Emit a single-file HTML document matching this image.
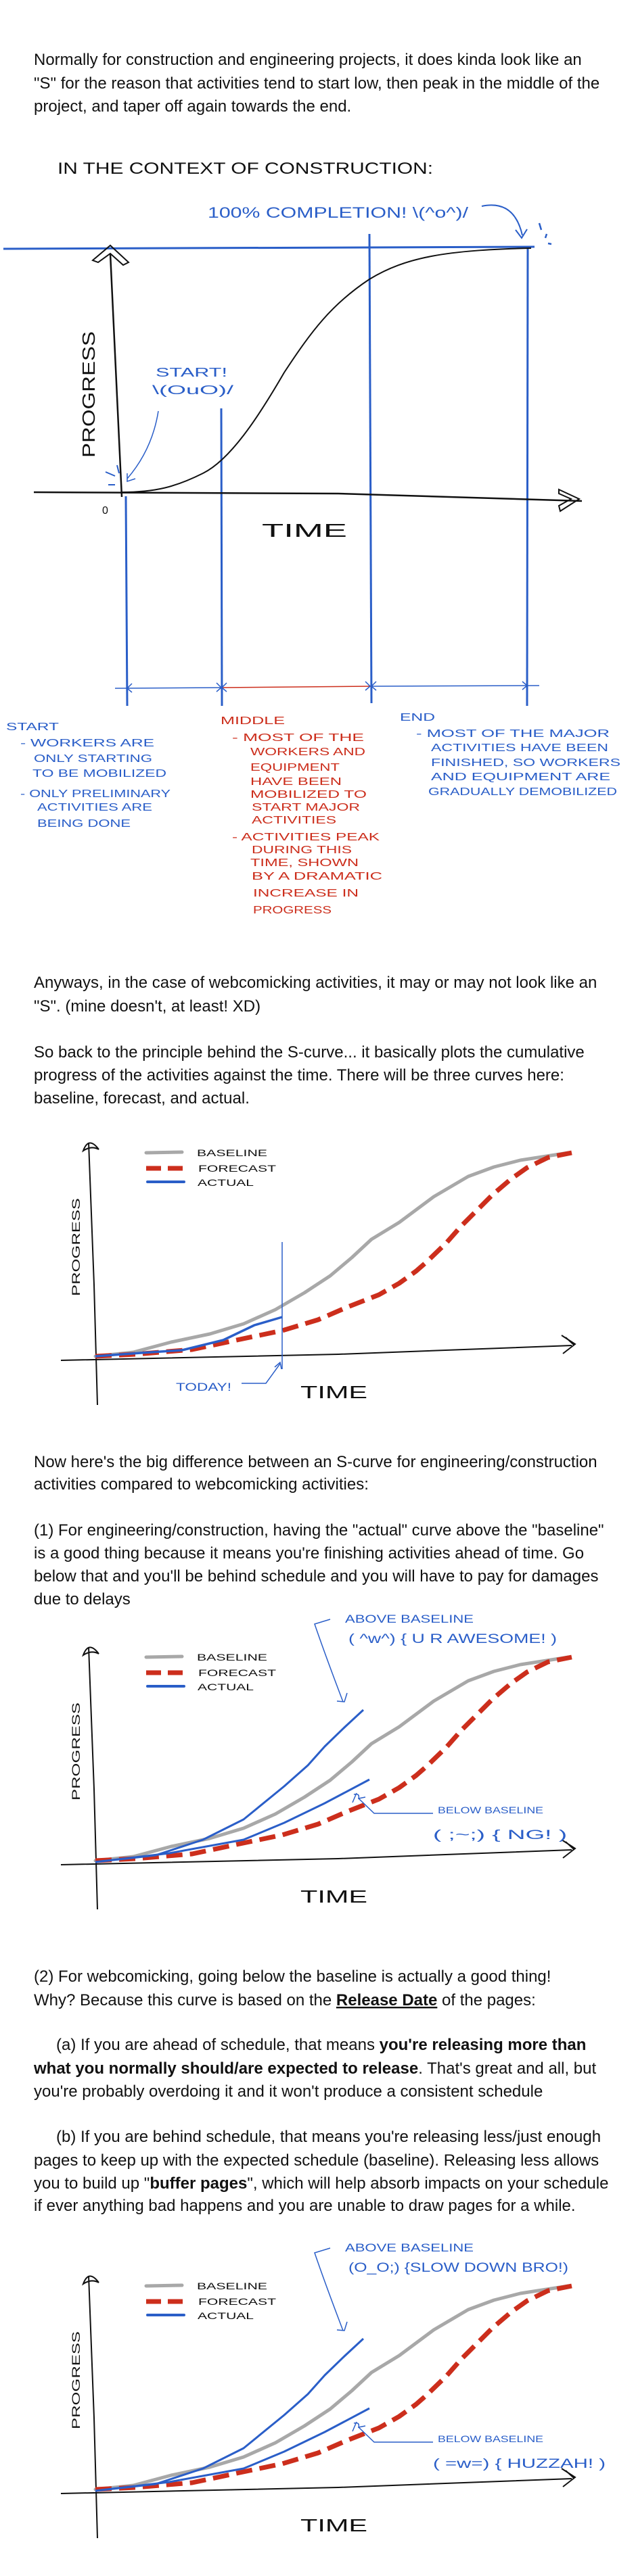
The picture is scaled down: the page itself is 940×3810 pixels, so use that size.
<!DOCTYPE html>
<html><head><meta charset="utf-8"><style>
html,body{margin:0;padding:0;background:#fff;}
svg{display:block;}
.t{font-family:"Liberation Sans",Arial,sans-serif;font-size:24px;fill:#111;}
.h{font-family:"Liberation Sans",Arial,sans-serif;fill:#111;}
.b{fill:#2a5ec8;}
.r{fill:#cc2e1c;}
</style></head><body>
<svg width="940" height="3810" viewBox="0 0 940 3810" xmlns="http://www.w3.org/2000/svg">
<defs>
<g id="chart">
  <path d="M131,1690 L139,1900 L144,2078" stroke="#111" stroke-width="2" fill="none"/>
  <path d="M123,1702 Q131,1680 146,1700 Q135,1694 123,1702Z" stroke="#111" stroke-width="2" fill="none"/>
  <path d="M90,2012 L500,2003 L845,1990" stroke="#111" stroke-width="2" fill="none"/>
  <path d="M830,1975 L850,1988 L832,2002 M836,1978 L848,1989" stroke="#111" stroke-width="2" fill="none"/>
  <line x1="216" y1="1705" x2="269" y2="1704" stroke="#a8a8a8" stroke-width="5" stroke-linecap="round"/>
  <line x1="216" y1="1728" x2="273" y2="1728" stroke="#cc2e1c" stroke-width="7" stroke-dasharray="22,10"/>
  <line x1="218" y1="1748" x2="272" y2="1748" stroke="#2a5ec8" stroke-width="4" stroke-linecap="round"/>
  <text class="h" x="291" y="1710" font-size="14" textLength="104" lengthAdjust="spacingAndGlyphs">BASELINE</text>
  <text class="h" x="293" y="1733" font-size="14" textLength="115" lengthAdjust="spacingAndGlyphs">FORECAST</text>
  <text class="h" x="292" y="1754" font-size="14" textLength="83" lengthAdjust="spacingAndGlyphs">ACTUAL</text>
  <text class="h" transform="translate(118,1917) rotate(-90)" font-size="17" textLength="145" lengthAdjust="spacingAndGlyphs">PROGRESS</text>
  <text class="h" x="444" y="2068" font-size="26" textLength="99" lengthAdjust="spacingAndGlyphs">TIME</text>
  <polyline points="141,2006 197,2000 253,1985 310,1973 360,1958 407,1937 450,1912 488,1887 520,1860 549,1833 590,1808 641,1770 692,1740 730,1726 769,1716 840,1705" stroke="#a8a8a8" stroke-width="5" fill="none" stroke-linejoin="round" stroke-linecap="round"/>
  <polyline points="141,2006 200,2003 284,1996 345,1983 417,1968 470,1952 514,1933 560,1915 590,1898 615,1880 631,1866 660,1838 682,1813 705,1790 728,1767 755,1744 779,1727 810,1712 845,1705" stroke="#cc2e1c" stroke-width="7" fill="none" stroke-dasharray="24,11" stroke-linejoin="round"/>
</g>
</defs>

<text class="t" x="50" y="96">Normally for construction and engineering projects, it does kinda look like an</text>
<text class="t" x="50" y="131">"S" for the reason that activities tend to start low, then peak in the middle of the</text>
<text class="t" x="50" y="165">project, and taper off again towards the end.</text>

<text class="h" x="85" y="257" font-size="24" textLength="555" lengthAdjust="spacingAndGlyphs">IN THE CONTEXT OF CONSTRUCTION:</text>
<text class="h b" x="307" y="322" font-size="22" textLength="385" lengthAdjust="spacingAndGlyphs">100% COMPLETION! \(^o^)/</text>
<path d="M712,305 Q760,295 772,348" stroke="#2a5ec8" stroke-width="2" fill="none"/>
<path d="M762,340 L771,352 L779,339" stroke="#2a5ec8" stroke-width="2" fill="none"/>
<path d="M797,330 L800,340 M808,346 L806,352 M810,360 L815,361" stroke="#2a5ec8" stroke-width="2.5" fill="none"/>
<line x1="5" y1="368" x2="790" y2="365" stroke="#2a5ec8" stroke-width="3"/>
<line x1="327" y1="604" x2="328" y2="1044" stroke="#2a5ec8" stroke-width="3"/>
<line x1="546" y1="346" x2="549" y2="1040" stroke="#2a5ec8" stroke-width="3"/>
<line x1="780" y1="367" x2="779" y2="1044" stroke="#2a5ec8" stroke-width="3"/>
<line x1="186" y1="734" x2="188" y2="1044" stroke="#2a5ec8" stroke-width="3"/>
<path d="M163,375 L180,735" stroke="#111" stroke-width="2.5" fill="none"/>
<path d="M137,385 L163,363 L190,388 L182,392 L163,375 L145,388Z" stroke="#111" stroke-width="2" fill="none"/>
<path d="M50,728 L500,730 L860,741" stroke="#111" stroke-width="2.5" fill="none"/>
<path d="M826,724 L856,738 L828,756 L826,748 L844,738 L826,730Z" stroke="#111" stroke-width="2" fill="none"/>
<path d="M180,728 C230,728 260,720 300,700 C340,680 380,620 420,551 C460,490 490,450 546,413 C600,380 660,370 785,367" stroke="#111" stroke-width="2" fill="none"/>
<text class="h" transform="translate(140,677) rotate(-90)" font-size="26" textLength="187" lengthAdjust="spacingAndGlyphs">PROGRESS</text>
<text class="h b" x="230" y="557" font-size="18" textLength="106" lengthAdjust="spacingAndGlyphs">START!</text>
<text class="h b" x="225" y="583" font-size="18" textLength="120" lengthAdjust="spacingAndGlyphs">\(OuO)/</text>
<path d="M234,608 Q225,665 188,708 M188,700 L188,712 L200,708" stroke="#2a5ec8" stroke-width="1.5" fill="none"/>
<path d="M156,698 L170,704 M160,717 L170,717 M173,688 L176,700" stroke="#2a5ec8" stroke-width="2" fill="none"/>
<text class="h" x="151" y="760" font-size="16">0</text>
<text class="h" x="387" y="794" font-size="28" textLength="126" lengthAdjust="spacingAndGlyphs">TIME</text>
<line x1="170" y1="1018" x2="327" y2="1017" stroke="#2a5ec8" stroke-width="1.5"/>
<line x1="327" y1="1017" x2="548" y2="1015" stroke="#cc2e1c" stroke-width="1.5"/>
<line x1="548" y1="1015" x2="797" y2="1014" stroke="#2a5ec8" stroke-width="1.5"/>
<path d="M195,1011 L188,1018 L195,1024 M320,1010 L327,1017 L320,1023 M335,1010 L328,1017 L335,1023 M540,1008 L547,1015 L540,1021 M556,1008 L549,1015 L556,1021 M772,1008 L779,1014 L772,1020" stroke="#2a5ec8" stroke-width="1.5" fill="none"/>
<g class="h b" font-size="16">
<text x="9" y="1080" textLength="78" lengthAdjust="spacingAndGlyphs">START</text>
<text x="30" y="1104" textLength="198" lengthAdjust="spacingAndGlyphs">- WORKERS ARE</text>
<text x="50" y="1127" textLength="175" lengthAdjust="spacingAndGlyphs">ONLY STARTING</text>
<text x="48" y="1149" textLength="198" lengthAdjust="spacingAndGlyphs">TO BE MOBILIZED</text>
<text x="30" y="1179" textLength="222" lengthAdjust="spacingAndGlyphs">- ONLY PRELIMINARY</text>
<text x="55" y="1199" textLength="170" lengthAdjust="spacingAndGlyphs">ACTIVITIES ARE</text>
<text x="55" y="1223" textLength="138" lengthAdjust="spacingAndGlyphs">BEING DONE</text>
</g>
<g class="h r" font-size="16">
<text x="326" y="1071" textLength="95" lengthAdjust="spacingAndGlyphs">MIDDLE</text>
<text x="343" y="1096" textLength="195" lengthAdjust="spacingAndGlyphs">- MOST OF THE</text>
<text x="370" y="1117" textLength="170" lengthAdjust="spacingAndGlyphs">WORKERS AND</text>
<text x="370" y="1140" textLength="132" lengthAdjust="spacingAndGlyphs">EQUIPMENT</text>
<text x="370" y="1161" textLength="135" lengthAdjust="spacingAndGlyphs">HAVE BEEN</text>
<text x="370" y="1180" textLength="172" lengthAdjust="spacingAndGlyphs">MOBILIZED TO</text>
<text x="372" y="1199" textLength="160" lengthAdjust="spacingAndGlyphs">START MAJOR</text>
<text x="372" y="1218" textLength="125" lengthAdjust="spacingAndGlyphs">ACTIVITIES</text>
<text x="343" y="1243" textLength="218" lengthAdjust="spacingAndGlyphs">- ACTIVITIES PEAK</text>
<text x="372" y="1262" textLength="148" lengthAdjust="spacingAndGlyphs">DURING THIS</text>
<text x="370" y="1281" textLength="160" lengthAdjust="spacingAndGlyphs">TIME, SHOWN</text>
<text x="372" y="1301" textLength="193" lengthAdjust="spacingAndGlyphs">BY A DRAMATIC</text>
<text x="374" y="1326" textLength="156" lengthAdjust="spacingAndGlyphs">INCREASE IN</text>
<text x="374" y="1351" textLength="116" lengthAdjust="spacingAndGlyphs">PROGRESS</text>
</g>
<g class="h b" font-size="16">
<text x="591" y="1066" textLength="52" lengthAdjust="spacingAndGlyphs">END</text>
<text x="615" y="1090" textLength="286" lengthAdjust="spacingAndGlyphs">- MOST OF THE MAJOR</text>
<text x="637" y="1111" textLength="262" lengthAdjust="spacingAndGlyphs">ACTIVITIES HAVE BEEN</text>
<text x="637" y="1133" textLength="280" lengthAdjust="spacingAndGlyphs">FINISHED, SO WORKERS</text>
<text x="637" y="1154" textLength="265" lengthAdjust="spacingAndGlyphs">AND EQUIPMENT ARE</text>
<text x="633" y="1176" textLength="279" lengthAdjust="spacingAndGlyphs">GRADUALLY DEMOBILIZED</text>
</g>

<text class="t" x="50" y="1461">Anyways, in the case of webcomicking activities, it may or may not look like an</text>
<text class="t" x="50" y="1496">"S". (mine doesn't, at least! XD)</text>
<text class="t" x="50" y="1564">So back to the principle behind the S-curve... it basically plots the cumulative</text>
<text class="t" x="50" y="1598">progress of the activities against the time. There will be three curves here:</text>
<text class="t" x="50" y="1632">baseline, forecast, and actual.</text>

<use href="#chart"/>
<polyline points="141,2006 208,2001 269,1997 330,1982 376,1960 417,1948" stroke="#2a5ec8" stroke-width="3.5" fill="none" stroke-linejoin="round"/>
<line x1="417" y1="1837" x2="417" y2="2025" stroke="#2a5ec8" stroke-width="1.5"/>
<text class="h b" x="260" y="2057" font-size="17" textLength="82" lengthAdjust="spacingAndGlyphs">TODAY!</text>
<path d="M357,2046 L393,2046 L414,2017 M406,2022 L414,2015 L416,2025" stroke="#2a5ec8" stroke-width="1.5" fill="none"/>

<text class="t" x="50" y="2170">Now here's the big difference between an S-curve for engineering/construction</text>
<text class="t" x="50" y="2203">activities compared to webcomicking activities:</text>
<text class="t" x="50" y="2271">(1) For engineering/construction, having the "actual" curve above the "baseline"</text>
<text class="t" x="50" y="2305">is a good thing because it means you're finishing activities ahead of time. Go</text>
<text class="t" x="50" y="2339">below that and you'll be behind schedule and you will have to pay for damages</text>
<text class="t" x="50" y="2373">due to delays</text>

<g transform="translate(0,746)">
<use href="#chart"/>
<polyline points="141,2008 230,1998 300,1975 360,1945 420,1896 455,1865 480,1837 510,1808 537,1783" stroke="#2a5ec8" stroke-width="3" fill="none" stroke-linejoin="round"/>
<polyline points="141,2008 250,1995 360,1975 420,1950 480,1921 546,1886" stroke="#2a5ec8" stroke-width="3" fill="none" stroke-linejoin="round"/>
<path d="M488,1649 L465,1656 Q480,1700 507,1771 M498,1770 L509,1771 L513,1758" stroke="#2a5ec8" stroke-width="1.5" fill="none"/>
<path d="M527,1906 L521,1920 M523,1908 Q532,1906 530,1914 L540,1912 M530,1914 L553,1936 L640,1936" stroke="#2a5ec8" stroke-width="1.5" fill="none"/>
<text class="h b" x="510" y="1654" font-size="17" textLength="190" lengthAdjust="spacingAndGlyphs">ABOVE BASELINE</text>
<text class="h b" x="515" y="1684" font-size="19" textLength="308" lengthAdjust="spacingAndGlyphs">( ^w^) { U R AWESOME! )</text>
<text class="h b" x="647" y="1936" font-size="14" textLength="156" lengthAdjust="spacingAndGlyphs">BELOW BASELINE</text>
<text class="h b" x="640" y="1974" font-size="19" textLength="198" lengthAdjust="spacingAndGlyphs">( ;~;) { NG! )</text>
</g>

<text class="t" x="50" y="2931">(2) For webcomicking, going below the baseline is actually a good thing!</text>
<text class="t" x="50" y="2966">Why? Because this curve is based on the <tspan font-weight="bold" text-decoration="underline">Release Date</tspan> of the pages:</text>
<text class="t" x="83" y="3032">(a) If you are ahead of schedule, that means <tspan font-weight="bold">you're releasing more than</tspan></text>
<text class="t" x="50" y="3067"><tspan font-weight="bold">what you normally should/are expected to release</tspan>. That's great and all, but</text>
<text class="t" x="50" y="3101">you're probably overdoing it and it won't produce a consistent schedule</text>
<text class="t" x="83" y="3168">(b) If you are behind schedule, that means you're releasing less/just enough</text>
<text class="t" x="50" y="3203">pages to keep up with the expected schedule (baseline). Releasing less allows</text>
<text class="t" x="50" y="3237">you to build up "<tspan font-weight="bold">buffer pages</tspan>", which will help absorb impacts on your schedule</text>
<text class="t" x="50" y="3270">if ever anything bad happens and you are unable to draw pages for a while.</text>

<g transform="translate(0,1676)">
<use href="#chart"/>
<polyline points="141,2008 230,1998 300,1975 360,1945 420,1896 455,1865 480,1837 510,1808 537,1783" stroke="#2a5ec8" stroke-width="3" fill="none" stroke-linejoin="round"/>
<polyline points="141,2008 250,1995 360,1975 420,1950 480,1921 546,1886" stroke="#2a5ec8" stroke-width="3" fill="none" stroke-linejoin="round"/>
<path d="M488,1649 L465,1656 Q480,1700 507,1771 M498,1770 L509,1771 L513,1758" stroke="#2a5ec8" stroke-width="1.5" fill="none"/>
<path d="M527,1906 L521,1920 M523,1908 Q532,1906 530,1914 L540,1912 M530,1914 L553,1936 L640,1936" stroke="#2a5ec8" stroke-width="1.5" fill="none"/>
<text class="h b" x="510" y="1654" font-size="17" textLength="190" lengthAdjust="spacingAndGlyphs">ABOVE BASELINE</text>
<text class="h b" x="515" y="1684" font-size="19" textLength="325" lengthAdjust="spacingAndGlyphs">(O_O;) {SLOW DOWN BRO!)</text>
<text class="h b" x="647" y="1936" font-size="14" textLength="156" lengthAdjust="spacingAndGlyphs">BELOW BASELINE</text>
<text class="h b" x="640" y="1974" font-size="19" textLength="255" lengthAdjust="spacingAndGlyphs">( =w=) { HUZZAH! )</text>
</g>
</svg>
</body></html>
